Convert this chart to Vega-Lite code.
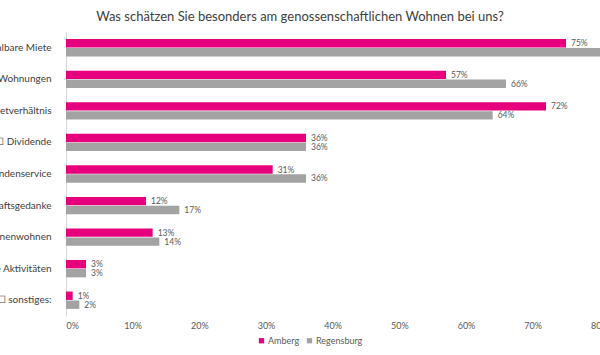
{
  "$schema": "https://vega.github.io/schema/vega-lite/v6.json",
  "autosize": {"type": "none"},
  "padding": {"left": 66, "top": 32, "right": 0, "bottom": 39},
  "width": 600,
  "height": 284,
  "background": "white",
  "config": {"font": "Lato", "view": {"stroke": null}},
  "title": {"text": "Was schätzen Sie besonders am genossenschaftlichen Wohnen bei uns?", "fontSize": 13, "fontWeight": "normal", "color": "#404040", "anchor": "middle", "frame": "group", "dx": -66, "offset": 8},
  "data": {"values": [
    {"cat": "Bezahlbare Miete", "series": "Amberg", "value": 0.75},
    {"cat": "Bezahlbare Miete", "series": "Regensburg", "value": 0.81},
    {"cat": "Gepflegte Wohnungen", "series": "Amberg", "value": 0.57},
    {"cat": "Gepflegte Wohnungen", "series": "Regensburg", "value": 0.66},
    {"cat": "Sicheres Mietverhältnis", "series": "Amberg", "value": 0.72},
    {"cat": "Sicheres Mietverhältnis", "series": "Regensburg", "value": 0.64},
    {"cat": "☐ Dividende", "series": "Amberg", "value": 0.36},
    {"cat": "☐ Dividende", "series": "Regensburg", "value": 0.36},
    {"cat": "Guter Kundenservice", "series": "Amberg", "value": 0.31},
    {"cat": "Guter Kundenservice", "series": "Regensburg", "value": 0.36},
    {"cat": "Gemeinschaftsgedanke", "series": "Amberg", "value": 0.12},
    {"cat": "Gemeinschaftsgedanke", "series": "Regensburg", "value": 0.17},
    {"cat": "Mehrgenerationenwohnen", "series": "Amberg", "value": 0.13},
    {"cat": "Mehrgenerationenwohnen", "series": "Regensburg", "value": 0.14},
    {"cat": "Gemeinschaftliche Aktivitäten", "series": "Amberg", "value": 0.03},
    {"cat": "Gemeinschaftliche Aktivitäten", "series": "Regensburg", "value": 0.03},
    {"cat": "☐ sonstiges:", "series": "Amberg", "value": 0.01},
    {"cat": "☐ sonstiges:", "series": "Regensburg", "value": 0.02}
  ]},
  "encoding": {
    "y": {"field": "cat", "type": "nominal", "sort": null, "title": null,
      "scale": {"paddingInner": 0.45, "paddingOuter": 0.225},
      "axis": {"ticks": false, "domainColor": "#d9d9d9", "labelFontSize": 10, "labelColor": "#404040", "labelPadding": 15, "labelLimit": 0}},
    "yOffset": {"field": "series", "type": "nominal", "sort": ["Amberg", "Regensburg"], "scale": {"paddingInner": 0.06}},
    "x": {"field": "value", "type": "quantitative", "title": null,
      "scale": {"domain": [0, 0.9]},
      "axis": {"format": ".0%", "values": [0, 0.1, 0.2, 0.3, 0.4, 0.5, 0.6, 0.7, 0.8, 0.9], "grid": false, "domain": false, "ticks": false, "labelFontSize": 9, "labelColor": "#595959", "labelPadding": 5}}
  },
  "layer": [
    {"mark": {"type": "bar"},
     "encoding": {"color": {"field": "series", "type": "nominal", "title": null,
        "scale": {"domain": ["Amberg", "Regensburg"], "range": ["#E6007E", "#A3A3A3"]},
        "legend": {"orient": "none", "legendX": 191, "legendY": 304, "direction": "horizontal", "symbolType": "square", "symbolSize": 28, "labelFontSize": 9, "labelColor": "#595959", "labelOffset": 2, "columnPadding": 5, "symbolOffset": 0}}}},
    {"mark": {"type": "text", "align": "left", "dx": 5, "fontSize": 8.5, "color": "#595959"},
     "encoding": {"text": {"field": "value", "type": "quantitative", "format": ".0%"}}}
  ]
}
